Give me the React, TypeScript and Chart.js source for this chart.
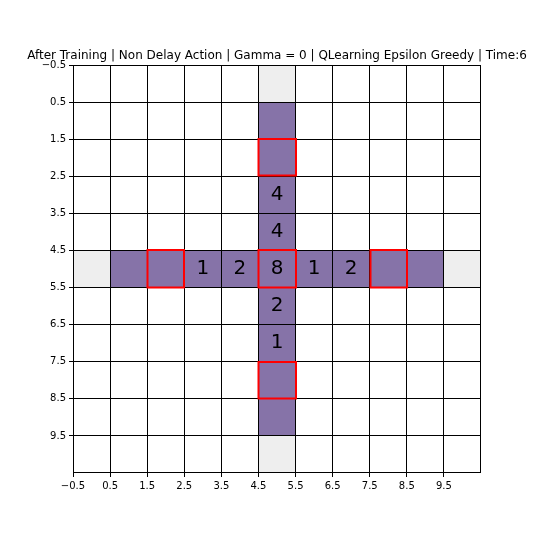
import React, { useEffect, useRef } from "react";
import { Chart, registerables } from "chart.js";

Chart.register(...registerables);

const TITLE = "After Training | Non Delay Action | Gamma = 0 | QLearning Epsilon Greedy | Time:6";
const AXIS_MIN = -0.5;
const AXIS_MAX = 10.5;
const TICK_VALUES = [-0.5, 0.5, 1.5, 2.5, 3.5, 4.5, 5.5, 6.5, 7.5, 8.5, 9.5];

// cells as [column, row]
const GREY_CELLS: [number, number][] = [[5, 0], [5, 10], [0, 5], [10, 5]];
const PATH_CELLS: [number, number][] = [
  [5, 1], [5, 2], [5, 3], [5, 4], [5, 5], [5, 6], [5, 7], [5, 8], [5, 9],
  [1, 5], [2, 5], [3, 5], [4, 5], [6, 5], [7, 5], [8, 5], [9, 5],
];
const RED_CELLS: [number, number][] = [[5, 2], [2, 5], [5, 5], [8, 5], [5, 8]];
const LABEL_CELLS: [number, number][] = [
  [5, 3], [5, 4], [3, 5], [4, 5], [5, 5], [6, 5], [7, 5], [5, 6], [5, 7],
];
const LABEL_TEXTS = ["4", "4", "1", "2", "8", "1", "2", "2", "1"];

const PURPLE = "#8673a8";
const GREY = "#eeeeee";

function cellRect(chart: any, c: number, r: number) {
  const xs = chart.scales.x;
  const ys = chart.scales.y;
  const xa = Math.round(xs.getPixelForValue(c - 0.5));
  const xb = Math.round(xs.getPixelForValue(c + 0.5));
  const ya = Math.round(ys.getPixelForValue(r - 0.5));
  const yb = Math.round(ys.getPixelForValue(r + 0.5));
  return { x: Math.min(xa, xb), y: Math.min(ya, yb), w: Math.abs(xb - xa), h: Math.abs(yb - ya) };
}

const gridPlugin = {
  id: "gridCells",
  beforeDraw(chart: any) {
    const ctx = chart.ctx;
    ctx.save();
    ctx.fillStyle = GREY;
    GREY_CELLS.forEach(([c, r]) => {
      const b = cellRect(chart, c, r);
      ctx.fillRect(b.x, b.y, b.w, b.h);
    });
    ctx.fillStyle = PURPLE;
    PATH_CELLS.forEach(([c, r]) => {
      const b = cellRect(chart, c, r);
      ctx.fillRect(b.x, b.y, b.w, b.h);
    });
    ctx.restore();
  },
  afterDraw(chart: any) {
    const ctx = chart.ctx;
    const a = chart.chartArea;
    ctx.save();
    // frame
    ctx.strokeStyle = "#000";
    ctx.lineWidth = 1;
    ctx.strokeRect(Math.round(a.left) + 0.5, Math.round(a.top) + 0.5, Math.round(a.right - a.left) - 1, Math.round(a.bottom - a.top) - 1);
    // red boxes
    ctx.strokeStyle = "#ff0000";
    ctx.lineWidth = 2;
    RED_CELLS.forEach(([c, r]) => {
      const b = cellRect(chart, c, r);
      ctx.strokeRect(b.x + 0.5, b.y, b.w - 0.5, b.h - 0.5);
    });
    // numbers
    ctx.fillStyle = "#000";
    ctx.font = "20px 'DejaVu Sans'";
    ctx.textAlign = "center";
    ctx.textBaseline = "middle";
    LABEL_CELLS.forEach(([c, r], i) => {
      const x = chart.scales.x.getPixelForValue(c);
      const y = chart.scales.y.getPixelForValue(r);
      ctx.fillText(LABEL_TEXTS[i], x, y);
    });
    // title
    ctx.font = "12px 'DejaVu Sans'";
    ctx.textBaseline = "alphabetic";
    ctx.fillText(TITLE, (a.left + a.right) / 2, a.top - 6);
    ctx.restore();
  },
};

const fmt = (v: number) => (v < 0 ? "\u2212" + Math.abs(v) : String(v));

export default function App() {
  const ref = useRef<HTMLCanvasElement | null>(null);
  useEffect(() => {
    if (!ref.current) return;
    const axisCommon = {
      type: "linear" as const,
      min: AXIS_MIN,
      max: AXIS_MAX,
      afterBuildTicks: (scale: any) => {
        scale.ticks = TICK_VALUES.map((v) => ({ value: v }));
      },
      grid: {
        color: "#000",
        lineWidth: 1,
        tickLength: 4,
        tickColor: "#000",
        drawTicks: true,
      },
      border: { display: false },
      ticks: {
        autoSkip: false,
        maxRotation: 0,
        padding: 3,
        color: "#000",
        font: { family: "'DejaVu Sans'", size: 10 },
        callback: (v: any) => fmt(Number(v)),
      },
    };
    const chart = new Chart(ref.current, {
      type: "scatter",
      data: { datasets: [] },
      options: {
        responsive: false,
        animation: false,
        devicePixelRatio: 1,
        layout: { padding: { left: 0, right: 59, top: 65, bottom: 0 } },
        plugins: { legend: { display: false }, title: { display: false }, tooltip: { enabled: false } },
        scales: {
          x: {
            ...axisCommon,
            position: "bottom",
            afterFit: (s: any) => { s.height = 67; },
          },
          y: {
            ...axisCommon,
            reverse: true,
            position: "left",
            afterFit: (s: any) => { s.width = 73; },
          },
        },
      } as any,
      plugins: [gridPlugin],
    });
    return () => chart.destroy();
  }, []);
  return (
    <div style={{ position: "absolute", left: 0, top: 0, width: 540, height: 540, background: "#fff" }}>
      <canvas ref={ref} width={540} height={540} />
    </div>
  );
}
